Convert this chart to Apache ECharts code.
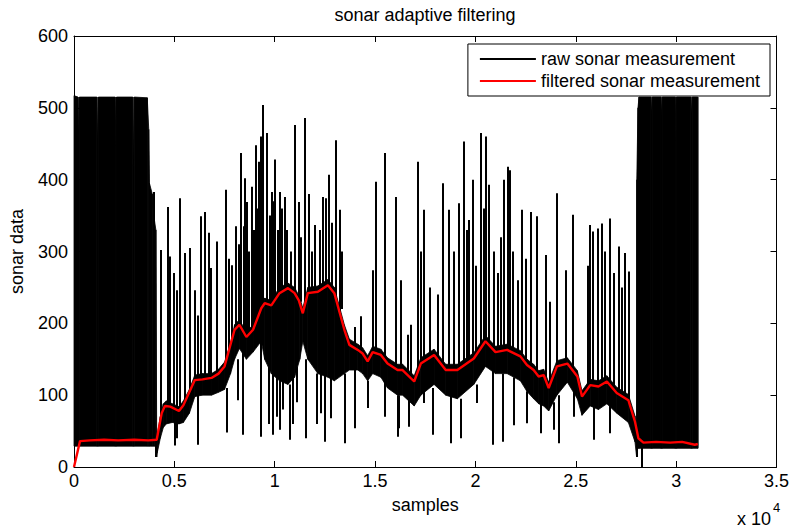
<!DOCTYPE html>
<html>
<head>
<meta charset="utf-8">
<script src="https://cdn.jsdelivr.net/npm/echarts@6/dist/echarts.min.js"></script>
<style>
  html, body { margin: 0; padding: 0; background: #fff; }
  #chart { width: 792px; height: 529px; }
</style>
</head>
<body>
<div id="chart"></div>
<script>
// raw sonar, solid part: lower and upper edge of the black mass
const bandX = [0, 200, 233, 266, 1140, 1177, 1214, 2050, 2085, 2120, 2930, 2964, 3000, 3650, 3724, 3760, 3900, 4000, 4080, 4120,
  4150, 4300, 4450, 4600, 4900, 5230, 5450, 5750, 6020, 6400, 6850, 7200, 7500, 7800, 8000, 8240, 8590, 8920, 9330, 9500, 9830,
  10240, 10660, 10990, 11250, 11400, 11650, 12150, 12650, 12970, 13470, 13720, 14140, 14380, 14630, 14880, 15290, 15620,
  16120, 16370, 16950, 17280, 17940, 18520, 19100, 19920, 20500, 21000, 21580, 22240, 22570, 22900, 23150, 23400, 23650,
  24060, 24580, 25080, 25310, 25720, 26130, 26550, 27040, 27620, 27950, 28030,
  28040, 28100, 28150, 28745, 28780, 28815, 29245, 29280, 29315, 29955, 29990, 30025, 30735, 30770, 30805, 31080, 31090]
const bandLo = [29, 29, 29, 29, 29, 29, 29, 29, 29, 29, 29, 29, 29, 29, 29, 29, 29, 29, 29, 14,
  20, 40, 55, 60, 62, 60, 62, 75, 98, 100, 100, 104, 108, 130, 150, 165, 150, 160, 175, 150, 130,
  120, 115, 125, 150, 175, 150, 130, 125, 120, 130, 135, 135, 130, 120, 130, 125, 110,
  100, 100, 85, 100, 115, 100, 95, 115, 140, 130, 130, 120, 105, 95, 88, 85, 78,
  100, 118, 95, 72, 85, 80, 88, 75, 62, 35, 14,
  26, 26, 26, 26, 26, 26, 26, 26, 26, 26, 26, 26, 26, 26, 26, 26, 30]
const bandHi = [517, 515, 452, 515, 515, 448, 515, 515, 448, 515, 515, 420, 515, 514, 470, 395, 380, 345, 330, 40,
  45, 70, 88, 92, 88, 84, 92, 108, 128, 130, 130, 136, 146, 172, 198, 205, 188, 198, 228, 235, 232,
  250, 256, 250, 236, 221, 250, 252, 261, 250, 198, 178, 171, 166, 155, 168, 164, 152,
  143, 143, 127, 152, 164, 143, 143, 159, 183, 168, 171, 162, 150, 143, 134, 136, 118,
  148, 152, 134, 106, 122, 120, 127, 111, 101, 71, 48,
  400, 500, 515, 515, 490, 515, 515, 490, 515, 515, 455, 515, 515, 490, 515, 515, 33]

// raw sonar, single outliers: bottom and top of each spike
const spikeX = [3990, 4070, 4340, 4670, 4785, 4950, 5020, 5115, 5280, 5500, 5745, 6025, 6190, 6320, 6520, 6690, 6820, 7100,
  7550, 7600, 7850, 8045, 8140, 8310, 8420, 8510, 8590, 8840, 9050, 9200, 9300, 9420, 9580, 9700, 9870, 9920, 10000,
  10100, 10250, 10400, 10490, 10740, 10900, 11020, 11100, 11190, 11520, 11570, 11980, 12100, 12300, 12400, 12480, 12560,
  12690, 12810, 13060, 13220, 13470, 13970, 14000, 14300, 14630, 15040, 15460, 16040, 16120, 16200, 16620, 16700, 16780,
  17110, 17440, 17860, 18350, 18680, 18770, 19180, 19270, 19430, 19680, 19850, 20090, 20260, 20500, 20670, 20840, 21090,
  21340, 21420, 21610, 21710, 21910, 22330, 22580, 22740, 23040, 23250, 23480, 23900, 24060, 24150, 24480, 24840, 24890,
  25720, 25830, 25880, 26080, 26300, 26710, 27160, 27460, 27620, 28040, 28290,
  7700, 8200, 8450, 8700, 8950, 9130, 9760, 9950, 10150, 10350, 10600, 10800, 11300, 11700, 11850, 12250, 12850, 13350,
  14900, 16300, 17300, 17700, 18100, 18900, 19550, 20000, 20400, 20900, 21250, 21850, 22100, 22500, 23700, 25600, 26450,
  26900, 27300]
const spikeLo = [40, 14, 60, 85, 84, 82, 30, 40, 78, 88, 100, 120, 31, 122, 122, 123, 124, 128,
  145, 48, 170, 192, 93, 195, 45, 185, 181, 190, 205, 215, 42, 225, 227, 60, 226, 45, 230,
  70, 52, 80, 246, 38, 60, 242, 90, 232, 230, 40, 243, 60, 75, 248, 35, 250,
  252, 68, 235, 215, 33, 54, 165, 158, 82, 160, 70, 137, 42, 54, 125, 56, 122,
  135, 89, 45, 140, 135, 33, 135, 40, 140, 145, 150, 89, 165, 175, 170, 31, 160,
  35, 162, 163, 162, 58, 152, 61, 138, 130, 47, 125, 52, 140, 33, 144, 132, 70,
  114, 113, 38, 112, 115, 47, 100, 96, 93, 14, 0,
  150, 195, 190, 185, 193, 210, 226, 226, 235, 244, 248, 247, 230, 243, 243, 246, 248, 220,
  158, 133, 140, 150, 150, 137, 142, 150, 168, 165, 161, 160, 158, 146, 118, 116, 117,
  110, 100]
const spikeHi = [383, 40, 302, 362, 293, 270, 65, 246, 374, 298, 305, 246, 211, 349, 355, 326, 277, 314,
  386, 110, 281, 335, 150, 437, 160, 402, 369, 390, 448, 425, 460, 504, 465, 140, 383, 135, 428,
  130, 383, 120, 376, 115, 125, 476, 140, 369, 486, 150, 337, 130, 130, 376, 130, 374,
  407, 125, 455, 358, 130, 135, 195, 210, 120, 397, 437, 376, 100, 100, 184, 95, 198,
  425, 358, 110, 395, 358, 100, 367, 95, 453, 344, 400, 115, 465, 460, 393, 135, 270,
  130, 400, 418, 413, 125, 358, 105, 355, 349, 88, 295, 90, 381, 100, 274, 351, 110,
  337, 328, 85, 332, 339, 346, 307, 298, 272, 30, 40,
  290, 310, 335, 300, 330, 360, 350, 370, 330, 360, 330, 300, 320, 380, 300, 330, 340, 300,
  274, 260, 300, 250, 240, 300, 330, 280, 360, 300, 320, 300, 260, 290, 230, 280, 300,
  270, 250]

// filtered sonar
const filtX = [0, 300, 800, 1500, 2200, 3000, 3700, 4120, 4370, 4530, 4800, 5230, 5450, 6020, 6400, 6850, 7200, 7500, 8000, 8240,
  8590, 8920, 9330, 9500, 9830, 10240, 10660, 10990, 11200, 11400, 11650, 12150, 12650, 12970, 13470, 13720, 14140, 14380,
  14630, 14880, 15290, 15620, 16120, 16370, 16950, 17280, 17940, 18520, 19100, 19920, 20500, 21000, 21580, 22240, 22570,
  22900, 23150, 23400, 23650, 24060, 24580, 25080, 25310, 25720, 26130, 26550, 27040, 27620, 27950, 28120, 28370, 29000,
  29700, 30300, 30930, 31080]
const filtY = [0, 36, 37, 38, 37, 38, 37, 38, 75, 85, 84, 78, 86, 121, 122, 124, 130, 140, 191, 198,
  181, 191, 221, 228, 225, 242, 249, 242, 232, 214, 242, 244, 253, 242, 191, 170, 163, 158,
  147, 160, 156, 144, 135, 135, 119, 144, 156, 135, 135, 151, 175, 160, 163, 154, 142,
  135, 126, 128, 110, 140, 144, 126, 98, 114, 112, 119, 103, 93, 63, 40, 34, 35,
  34, 35, 31, 32]

const xTickLabels = ['0', '0.5', '1', '1.5', '2', '2.5', '3', '3.5']

const FONT = 'Liberation Sans, Arial, Helvetica, sans-serif'
const chart = echarts.init(document.getElementById('chart'), null, { renderer: 'svg' })

const boxAxis = {
  axisLine: { show: true, onZero: false, lineStyle: { color: '#000', width: 1 } },
  axisTick: { show: true, inside: true, length: 6, lineStyle: { color: '#000', width: 1 } },
  splitLine: { show: false }
}

// one quad per step between two band samples
const renderBand = (params, api) => {
  const i = params.dataIndex
  if (i >= bandX.length - 1) return null
  const pts = [
    api.coord([bandX[i], bandLo[i]]),
    api.coord([bandX[i + 1], bandLo[i + 1]]),
    api.coord([bandX[i + 1], bandHi[i + 1]]),
    api.coord([bandX[i], bandHi[i]])
  ]
  return {
    type: 'polygon',
    shape: { points: pts },
    style: { fill: '#000', stroke: '#000', lineWidth: 0.8 }
  }
}

const option = {
  animation: false,
  backgroundColor: '#fff',
  grid: { left: 72, right: 15, top: 36, bottom: 62, containLabel: false },
  legend: {
    data: ['raw sonar measurement', 'filtered sonar measurement'],
    orient: 'vertical',
    right: 22,
    top: 44,
    backgroundColor: '#fff',
    borderColor: '#000',
    borderWidth: 1,
    borderRadius: 0,
    padding: [5, 10, 5, 12],
    itemWidth: 56,
    itemHeight: 2,
    itemGap: 2,
    icon: 'rect',
    selectedMode: false,
    textStyle: { fontSize: 18, lineHeight: 20, color: '#000', fontFamily: FONT }
  },
  xAxis: [
    Object.assign({
      type: 'value', min: 0, max: 35000, interval: 5000, position: 'bottom',
      axisLabel: { formatter: (v) => xTickLabels[Math.round(v / 5000)], color: '#000', fontSize: 18, margin: 5, fontFamily: FONT },
      name: 'samples', nameLocation: 'middle', nameGap: 29,
      nameTextStyle: { fontSize: 18, color: '#000', fontFamily: FONT }
    }, boxAxis),
    Object.assign({
      type: 'value', min: 0, max: 35000, interval: 5000, position: 'top',
      axisLabel: { show: false }
    }, boxAxis)
  ],
  yAxis: [
    Object.assign({
      type: 'value', min: 0, max: 600, interval: 100, position: 'left',
      axisLabel: { color: '#000', fontSize: 18, margin: 6, fontFamily: FONT },
      name: 'sonar data', nameLocation: 'middle', nameGap: 48, nameRotate: 90,
      nameTextStyle: { fontSize: 18, color: '#000', fontFamily: FONT }
    }, boxAxis),
    Object.assign({
      type: 'value', min: 0, max: 600, interval: 100, position: 'right',
      axisLabel: { show: false }
    }, boxAxis)
  ],
  graphic: [
    { type: 'text', x: 425, y: 15, style: { text: 'sonar adaptive filtering', fontSize: 18, fontFamily: FONT, fill: '#000', align: 'center', verticalAlign: 'middle' } },
    { type: 'text', x: 737, y: 519, style: { text: 'x 10', fontSize: 18, fontFamily: FONT, fill: '#000', align: 'left', verticalAlign: 'middle' } },
    { type: 'text', x: 773, y: 507, style: { text: '4', fontSize: 13, fontFamily: FONT, fill: '#000', align: 'left', verticalAlign: 'middle' } }
  ],
  series: [
    {
      name: 'raw sonar measurement', type: 'custom', silent: true, clip: true,
      renderItem: renderBand,
      data: bandX.map((x, i) => [x, bandLo[i], bandHi[i]]),
      encode: { x: 0, y: [1, 2] },
      itemStyle: { color: '#000' }, z: 2
    },
    {
      name: 'raw spikes', type: 'lines', coordinateSystem: 'cartesian2d', silent: true,
      data: spikeX.map((x, i) => ({ coords: [[x, spikeLo[i]], [x, spikeHi[i]]] })),
      lineStyle: { color: '#000', width: 2, opacity: 1 }, z: 3
    },
    {
      name: 'filtered sonar measurement', type: 'line', symbol: 'none', silent: true,
      data: filtX.map((x, i) => [x, filtY[i]]),
      lineStyle: { color: '#ff0000', width: 2.4 },
      itemStyle: { color: '#ff0000' }, z: 5
    }
  ]
}

chart.setOption(option)
</script>
</body>
</html>
